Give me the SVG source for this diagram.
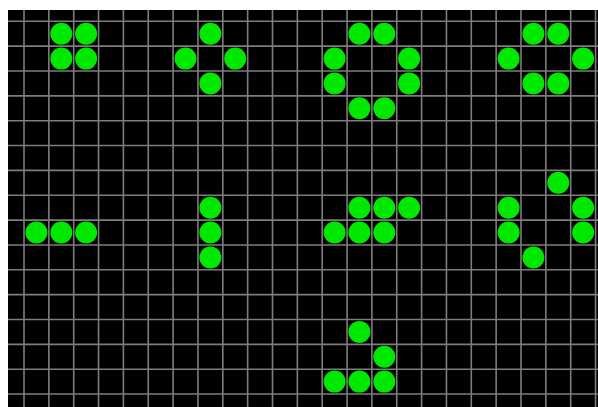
<svg xmlns="http://www.w3.org/2000/svg" width="598" height="407" viewBox="0 0 598 407">
<defs>
<style>
.g{stroke:#7d7d7d;stroke-width:1.6;fill:none}
.c{fill:#00e800}
</style>
</defs>
<rect x="0" y="0" width="598" height="407" fill="#ffffff"/>
<rect x="8" y="10" width="590" height="397" fill="#000000"/>
<g id="grid-lines">
<path class="g" d="M24 10V407M48.85 10V407M73.7 10V407M98.55 10V407M123.4 10V407M148.25 10V407M173.1 10V407M197.95 10V407M222.8 10V407M247.65 10V407M272.5 10V407M297.35 10V407M322.2 10V407M347.05 10V407M371.9 10V407M396.75 10V407M421.6 10V407M446.45 10V407M471.3 10V407M496.15 10V407M521 10V407M545.85 10V407M570.7 10V407M595.55 10V407"/>
<path class="g" d="M8 21.3H598M8 46.15H598M8 71H598M8 95.85H598M8 120.7H598M8 145.55H598M8 170.4H598M8 195.25H598M8 220.1H598M8 244.95H598M8 269.8H598M8 294.65H598M8 319.5H598M8 344.35H598M8 369.2H598M8 394.05H598"/>
</g>
<g id="connectors"/>
<g id="block" class="c">
<circle cx="61.3" cy="33.7" r="11"/><circle cx="86.1" cy="33.7" r="11"/>
<circle cx="61.3" cy="58.6" r="11"/><circle cx="86.1" cy="58.6" r="11"/>
</g>
<g id="tub" class="c">
<circle cx="210.4" cy="33.7" r="11"/><circle cx="185.5" cy="58.6" r="11"/>
<circle cx="235.2" cy="58.6" r="11"/><circle cx="210.4" cy="83.4" r="11"/>
</g>
<g id="pond" class="c">
<circle cx="359.4" cy="33.7" r="11"/><circle cx="384.3" cy="33.7" r="11"/>
<circle cx="334.6" cy="58.6" r="11"/><circle cx="409.1" cy="58.6" r="11"/>
<circle cx="334.6" cy="83.4" r="11"/><circle cx="409.1" cy="83.4" r="11"/>
<circle cx="359.4" cy="108.3" r="11"/><circle cx="384.3" cy="108.3" r="11"/>
</g>
<g id="beehive" class="c">
<circle cx="533.4" cy="33.7" r="11"/><circle cx="558.3" cy="33.7" r="11"/>
<circle cx="508.6" cy="58.6" r="11"/><circle cx="583.1" cy="58.6" r="11"/>
<circle cx="533.4" cy="83.4" r="11"/><circle cx="558.3" cy="83.4" r="11"/>
</g>
<g id="blinker-h" class="c">
<circle cx="36.4" cy="232.5" r="11"/><circle cx="61.3" cy="232.5" r="11"/><circle cx="86.1" cy="232.5" r="11"/>
</g>
<g id="blinker-v" class="c">
<circle cx="210.4" cy="207.7" r="11"/><circle cx="210.4" cy="232.5" r="11"/><circle cx="210.4" cy="257.4" r="11"/>
</g>
<g id="toad" class="c">
<circle cx="359.4" cy="207.7" r="11"/><circle cx="384.3" cy="207.7" r="11"/><circle cx="409.1" cy="207.7" r="11"/>
<circle cx="334.6" cy="232.5" r="11"/><circle cx="359.4" cy="232.5" r="11"/><circle cx="384.3" cy="232.5" r="11"/>
</g>
<g id="beacon-like" class="c">
<circle cx="558.3" cy="182.8" r="11"/>
<circle cx="508.6" cy="207.7" r="11"/><circle cx="583.1" cy="207.7" r="11"/>
<circle cx="508.6" cy="232.5" r="11"/><circle cx="583.1" cy="232.5" r="11"/>
<circle cx="533.4" cy="257.4" r="11"/>
</g>
<g id="glider" class="c">
<circle cx="359.4" cy="331.9" r="11"/>
<circle cx="384.3" cy="356.7" r="11"/>
<circle cx="334.6" cy="381.6" r="11"/><circle cx="359.4" cy="381.6" r="11"/><circle cx="384.3" cy="381.6" r="11"/>
</g>
</svg>
